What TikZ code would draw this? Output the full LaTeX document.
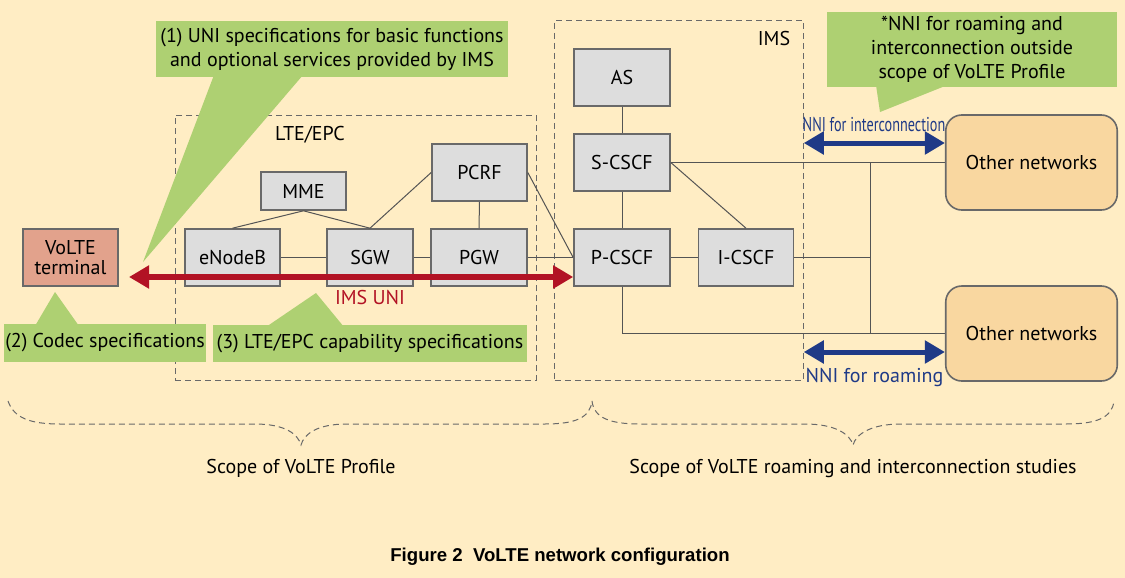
\documentclass[tikz,border=0pt]{standalone}
\usepackage{xcolor}
\usepackage{fontspec}
\setmainfont{PT Sans}
\newfontfamily\capfont{Liberation Sans}
\usepackage{tikz}
\usetikzlibrary{arrows.meta}
\definecolor{paper}{RGB}{255, 237, 196}
\definecolor{notegreen}{RGB}{174, 208, 114}
\definecolor{boxgray}{RGB}{221, 221, 221}
\definecolor{edgegray}{RGB}{105, 105, 105}
\definecolor{termred}{RGB}{226, 162, 140}
\definecolor{othertan}{RGB}{249, 215, 160}
\definecolor{unired}{RGB}{178, 18, 36}
\definecolor{nniblue}{RGB}{31, 58, 135}

\tikzset{
    nebox/.style={draw=edgegray, line width=0.8pt, fill=boxgray, inner sep=0pt,
        minimum width=47.5pt, minimum height=28.5pt, align=center},
    othernet/.style={draw=edgegray, line width=0.8pt, fill=othertan, rounded corners=8pt,
        minimum width=85.75pt, minimum height=47.5pt, inner sep=0pt},
    region/.style={draw=edgegray, line width=0.5pt, dash pattern=on 3pt off 2pt, inner sep=0pt},
    note/.style={fill=notegreen, inner sep=0pt, align=center},
    link/.style={draw=edgegray!80!black, line width=0.5pt},
    scopebrace/.style={draw=edgegray, line width=0.5pt, dash pattern=on 3pt off 2pt},
}

\begin{document}
\begin{tikzpicture}[x=0.5pt, y=-0.5pt, font=\fontsize{10}{12}\selectfont]
    \useasboundingbox[fill=paper] (0,0) rectangle (1125,578);

    % dashed domains
    \node[region, minimum width=180.5pt, minimum height=132.5pt] (lte) at (355.5,247.5) {};
    \node[region, minimum width=124.25pt, minimum height=180pt] (ims) at (679,200) {};
    \node (ltelabel) at (310,135) {LTE/EPC};
    \node (imslabel) at (774,39) {IMS};

    % network elements
    \node[nebox, fill=termred] (term) at (70.5,257.5) {VoLTE\\[-2pt]terminal};
    \node[nebox] (enb) at (232.5,257.5) {eNodeB};
    \node[nebox, minimum width=43pt] (sgw) at (370,257.5) {SGW};
    \node[nebox, minimum width=48pt] (pgw) at (479,257.5) {PGW};
    \node[nebox, minimum width=42.5pt, minimum height=19pt] (mme) at (303.5,191) {MME};
    \node[nebox] (pcrf) at (479.5,172.5) {PCRF};
    \node[nebox, minimum width=48pt] (as) at (622,77.5) {AS};
    \node[nebox, minimum width=48pt] (scscf) at (622,162.5) {S-CSCF};
    \node[nebox, minimum width=48pt] (pcscf) at (622,257.5) {P-CSCF};
    \node[nebox] (icscf) at (746,257.5) {I-CSCF};
    \node[othernet] (oth1) at (1031.5,162.5) {Other networks};
    \node[othernet] (oth2) at (1031.5,333.5) {Other networks};

    % links
    \draw[link] (mme.south) -- (enb.north);
    \draw[link] (mme.south) -- (sgw.north);
    \draw[link] (sgw.north) -- (pcrf.west);
    \draw[link] (pcrf.south) -- (pgw.north);
    \draw[link] (pcrf.east) -- (pcscf.west);
    \draw[link] (enb.east) -- (sgw.west);
    \draw[link] (sgw.east) -- (pgw.west);
    \draw[link] (pgw.east) -- (pcscf.west);
    \draw[link] (as.south) -- (scscf.north);
    \draw[link] (scscf.south) -- (pcscf.north);
    \draw[link] (scscf.east) -- (icscf.north);
    \draw[link] (pcscf.east) -- (icscf.west);
    \coordinate (busT) at (870,162.5);
    \coordinate (busB) at (870,333.5);
    \draw[link] (scscf.east) -- (oth1.west);
    \draw[link] (busT) -- (busB);
    \draw[link] (icscf.east) -- (icscf.east -| busT);
    \draw[link] (pcscf.south) |- (oth2.west);

    % interfaces
    \coordinate (uniL) at (129,277);
    \draw[unired, line width=3pt, {Triangle[length=10pt,width=11pt]}-{Triangle[length=10pt,width=11pt]}]
        (uniL) -- (pcscf.west |- uniL);
    \node[text=unired] (unilabel) at (370,297) {IMS UNI};
    \coordinate (nniA) at (ims.east |- 0,143);
    \coordinate (nniB) at (ims.east |- 0,352);
    \draw[nniblue, line width=2.5pt, {Triangle[length=10pt,width=11pt]}-{Triangle[length=10pt,width=11pt]}]
        (nniA) -- (nniA -| oth1.west);
    \draw[nniblue, line width=2.5pt, {Triangle[length=10pt,width=11pt]}-{Triangle[length=10pt,width=11pt]}]
        (nniB) -- (nniB -| oth2.west);
    \node[text=nniblue] (nniAlabel) at (874,125) {\scalebox{0.71}[1]{NNI for interconnection}};
    \node[text=nniblue] (nniBlabel) at (874.5,378) {NNI for roaming};

    % callouts
    \node[note, minimum width=176pt, minimum height=28pt] (note1) at (332,49)
        {(1) UNI specifications for basic functions\\and optional services provided by IMS};
    \fill[notegreen] (214,75) -- (303,75) -- (143,262) -- cycle;
    \node[note, minimum width=101pt, minimum height=19pt] (note2) at (105,343) {(2) Codec specifications};
    \fill[notegreen] (35,326) -- (79,326) -- (55,292) -- cycle;
    \node[note, minimum width=157pt, minimum height=18.5pt] (note3) at (370,343.5) {(3) LTE/EPC capability specifications};
    \fill[notegreen] (266,327) -- (344,327) -- (316,293) -- cycle;
    \node[note, minimum width=145pt, minimum height=37.5pt] (note4) at (972,49.5)
        {*NNI for roaming and\\interconnection outside\\scope of VoLTE Profile};
    \fill[notegreen] (876,85) -- (947.5,85) -- (880,112) -- cycle;

    % scopes
    \draw[scopebrace] (8,401) .. controls (14,418) and (30,424) .. (60,424) -- (255,424)
        .. controls (285,424) and (298,434) .. (301,445)
        .. controls (304,434) and (317,424) .. (347,424) -- (545,424)
        .. controls (575,424) and (590,418) .. (592,401);
    \draw[scopebrace] (592,401) .. controls (594,418) and (610,424) .. (640,424) -- (805,424)
        .. controls (835,424) and (850,434) .. (853,445)
        .. controls (856,434) and (871,424) .. (901,424) -- (1066,424)
        .. controls (1096,424) and (1112,418) .. (1114,401);
    \node (scope1) at (301,468) {Scope of VoLTE Profile};
    \node (scope2) at (853,468) {Scope of VoLTE roaming and interconnection studies};

    \node[font=\capfont\bfseries\fontsize{9.3}{11}\selectfont] (caption) at (560,557)
        {Figure 2\ \ VoLTE network configuration};
\end{tikzpicture}
\end{document}
